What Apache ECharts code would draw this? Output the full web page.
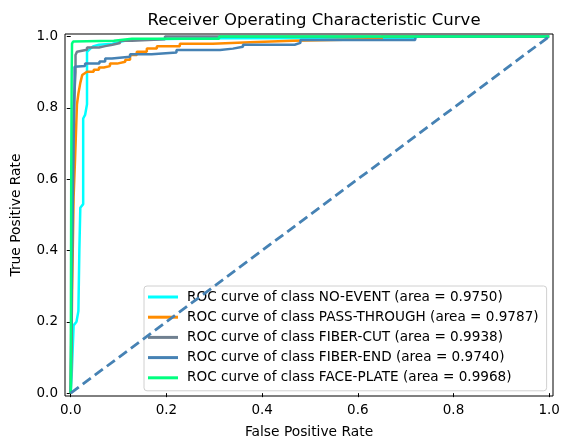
<!DOCTYPE html>
<html><head><meta charset="utf-8">
<script src="https://cdn.jsdelivr.net/npm/echarts@6/dist/echarts.min.js"></script>
<style>html,body{margin:0;padding:0;background:#fff}#c{width:563px;height:437px}</style>
</head><body><div id="c"></div>
<script>
const tickValues = [0, 0.2, 0.4, 0.6, 0.8, 1.0];
const classNames = ['NO-EVENT', 'PASS-THROUGH', 'FIBER-CUT', 'FIBER-END', 'FACE-PLATE'];
const areas = ['0.9750', '0.9787', '0.9938', '0.9740', '0.9968'];
const colors = ['#00ffff', '#ff8c00', '#708090', '#4682b4', '#00ff7f'];

const fprNoEvent = [0, 0.002, 0.004, 0.006, 0.012, 0.016, 0.018, 0.020, 0.026, 0.026, 0.030, 0.034, 0.034, 0.041, 0.048, 0.059, 0.087, 0.12, 0.2, 0.3, 0.72, 0.725, 1];
const tprNoEvent = [0, 0.05, 0.12, 0.19, 0.20, 0.23, 0.40, 0.52, 0.53, 0.77, 0.78, 0.81, 0.957, 0.966, 0.973, 0.977, 0.980, 0.990, 0.993, 0.995, 0.996, 1, 1];

const fprPass = [0, 0.003, 0.006, 0.009, 0.013, 0.016, 0.020, 0.024, 0.034, 0.048, 0.048, 0.059, 0.059, 0.069, 0.069, 0.082, 0.082, 0.097, 0.097, 0.114, 0.114, 0.124, 0.124, 0.138, 0.138, 0.159, 0.159, 0.180, 0.180, 0.228, 0.228, 0.297, 0.297, 0.375, 0.375, 0.464, 0.464, 0.65, 0.65, 1];
const tprPass = [0, 0.30, 0.55, 0.655, 0.81, 0.84, 0.87, 0.892, 0.901, 0.901, 0.907, 0.907, 0.913, 0.913, 0.917, 0.917, 0.924, 0.924, 0.929, 0.929, 0.935, 0.935, 0.948, 0.948, 0.957, 0.957, 0.966, 0.966, 0.973, 0.973, 0.980, 0.980, 0.984, 0.984, 0.988, 0.988, 0.993, 0.993, 1, 1];

const fprCut = [0, 0.003, 0.006, 0.010, 0.010, 0.013, 0.013, 0.034, 0.034, 0.059, 0.059, 0.072, 0.072, 0.087, 0.087, 0.103, 0.103, 0.128, 0.128, 0.197, 0.197, 1];
const tprCut = [0, 0.50, 0.80, 0.90, 0.948, 0.948, 0.957, 0.963, 0.969, 0.969, 0.973, 0.973, 0.977, 0.977, 0.982, 0.982, 0.988, 0.988, 0.992, 0.992, 1, 1];

const fprEnd = [0, 0.003, 0.006, 0.008, 0.008, 0.030, 0.030, 0.060, 0.060, 0.072, 0.072, 0.086, 0.086, 0.124, 0.124, 0.169, 0.169, 0.221, 0.221, 0.312, 0.312, 0.339, 0.339, 0.36, 0.36, 0.468, 0.468, 0.48, 0.48, 0.72, 0.72, 1];
const tprEnd = [0, 0.40, 0.70, 0.85, 0.915, 0.917, 0.924, 0.924, 0.930, 0.930, 0.938, 0.938, 0.943, 0.943, 0.950, 0.950, 0.955, 0.955, 0.962, 0.962, 0.966, 0.966, 0.971, 0.971, 0.977, 0.977, 0.982, 0.982, 0.990, 0.990, 1, 1];

const fprFace = [0, 0.001, 0.002, 0.0027, 0.005, 0.008, 0.09, 0.09, 0.128, 0.31, 0.31, 1];
const tprFace = [0, 0.60, 0.90, 0.980, 0.986, 0.988, 0.988, 0.992, 0.994, 0.994, 1, 1];

const fprLists = [fprNoEvent, fprPass, fprCut, fprEnd, fprFace];
const tprLists = [tprNoEvent, tprPass, tprCut, tprEnd, tprFace];
const diagX = [0, 1];
const diagY = [0, 1];

const font = 'DejaVu Sans';
const chart = echarts.init(document.getElementById('c'), null, {renderer: 'canvas'});

const series = classNames.map((name, i) => ({
  name: 'ROC curve of class ' + name + ' (area = ' + areas[i] + ')',
  type: 'line',
  showSymbol: false,
  symbol: 'none',
  lineStyle: {color: colors[i], width: 2.5},
  itemStyle: {color: colors[i]},
  data: fprLists[i].map((x, k) => [x, tprLists[i][k]]),
  z: 2 + i,
  animation: false
}));
series.push({
  name: 'diag',
  type: 'line',
  showSymbol: false,
  symbol: 'none',
  lineStyle: {color: '#4682b4', width: 2.8, type: [10, 5]},
  data: diagX.map((x, k) => [x, diagY[k]]),
  z: 10,
  animation: false
});

const axisCommon = {
  type: 'value',
  splitLine: {show: false},
  axisLine: {show: false},
  axisTick: {show: true, inside: false, length: 4, lineStyle: {color: '#000', width: 1}, customValues: tickValues},
  axisLabel: {color: '#000', fontFamily: font, fontSize: 13.5, customValues: tickValues, formatter: v => v.toFixed(1)},
  nameTextStyle: {color: '#000', fontFamily: font, fontSize: 13.8}
};

chart.setOption({
  animation: false,
  backgroundColor: '#fff',
  title: {
    text: 'Receiver Operating Characteristic Curve',
    left: 309, top: 7, textAlign: 'center',
    textStyle: {color: '#000', fontFamily: font, fontSize: 16.5, fontWeight: 'normal'}
  },
  grid: {left: 65, right: 10, top: 34, bottom: 41, show: true, borderColor: '#000', borderWidth: 1, backgroundColor: 'transparent', containLabel: false, outerBoundsMode: 'none'},
  xAxis: Object.assign({}, axisCommon, {
    min: -0.012, max: 1.008,
    name: 'False Positive Rate', nameLocation: 'middle', nameGap: 29,
    axisLabel: Object.assign({}, axisCommon.axisLabel, {margin: 7})
  }),
  yAxis: Object.assign({}, axisCommon, {
    min: -0.008, max: 1.007,
    name: 'True Positive Rate', nameLocation: 'middle', nameGap: 42,
    axisLabel: Object.assign({}, axisCommon.axisLabel, {margin: 7})
  }),
  legend: {
    data: series.slice(0, 5).map(s => s.name),
    orient: 'vertical',
    left: 144, top: 286,
    width: 404,
    icon: 'rect',
    itemWidth: 30, itemHeight: 3,
    itemGap: 6.2,
    padding: [4, 8, 6, 4],
    borderColor: '#d0d0d0', borderWidth: 1, borderRadius: 3,
    backgroundColor: 'rgba(255,255,255,0.8)',
    textStyle: {color: '#000', fontFamily: font, fontSize: 13.6, padding: [0, 0, 0, 4]},
    selectedMode: false
  },
  series: series
});
</script>
</body></html>
